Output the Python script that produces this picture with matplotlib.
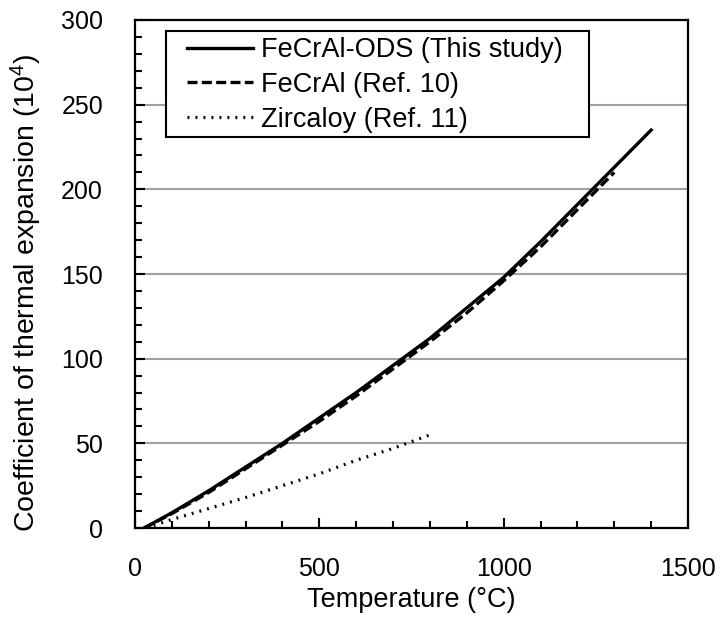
import matplotlib
matplotlib.use("Agg")
import matplotlib.pyplot as plt
from matplotlib.patches import Rectangle
from matplotlib.ticker import MultipleLocator

# values
temp_ods = [25, 100, 200, 300, 400, 500, 600, 700, 800, 900, 1000, 1100, 1200, 1300, 1400]
cte_ods = [0, 9, 22, 36, 50, 65, 80, 96, 112, 130, 148, 169, 191, 213, 235]

temp_fecral = [25, 100, 200, 300, 400, 500, 600, 700, 800, 900, 1000, 1100, 1200, 1300]
cte_fecral = [0, 8.5, 21, 35, 49, 63, 78, 94, 110, 127, 146, 166, 188, 210]

temp_zr = [30, 100, 200, 300, 400, 500, 600, 700, 800]
cte_zr = [0, 5, 11.5, 18, 25, 32, 40, 47, 55]

labels = ['FeCrAl-ODS (This study)', 'FeCrAl (Ref. 10)', 'Zircaloy (Ref. 11)']

plt.rcParams['font.family'] = ['Liberation Sans', 'DejaVu Sans']
plt.rcParams['mathtext.fontset'] = 'custom'
plt.rcParams['mathtext.rm'] = 'Liberation Sans'
plt.rcParams['mathtext.it'] = 'Liberation Sans'

fig = plt.figure(figsize=(7.21, 6.19), dpi=100)
ax = fig.add_axes([0.1872, 0.147, 0.767, 0.8207])

ax.plot(temp_ods, cte_ods, '-', color='black', lw=2.4, label=labels[0], zorder=3)
ax.plot(temp_fecral, cte_fecral, '--', color='black', lw=2.4, label=labels[1],
        dashes=(3.0, 1.3), zorder=3)
ax.plot(temp_zr, cte_zr, ':', color='black', lw=2.3, label=labels[2],
        dashes=(0.6, 1.9), zorder=3)

ax.set_xlim(0, 1500)
ax.set_ylim(0, 300)
ax.xaxis.set_major_locator(MultipleLocator(500))
ax.xaxis.set_minor_locator(MultipleLocator(100))
ax.yaxis.set_major_locator(MultipleLocator(50))
ax.yaxis.set_minor_locator(MultipleLocator(10))

ax.tick_params(which='both', direction='in', width=1.5, labelsize=18, colors='black')
ax.tick_params(which='major', length=7)
ax.tick_params(which='minor', length=5)
ax.tick_params(axis='x', which='major', pad=21)
ax.tick_params(axis='y', which='major', pad=23)

ax.grid(True, which='major', axis='y', color='#a0a0a0', lw=1.5)
ax.set_axisbelow(True)
for sp in ax.spines.values():
    sp.set_linewidth(1.6)
    sp.set_color('black')

ax.set_xlabel('Temperature (°C)', fontsize=19.5, labelpad=4)
ax.set_ylabel('Coefficient of thermal expansion (10$^{4}$)', fontsize=20.5)
ax.yaxis.set_label_coords(-0.165, 0.463)

# legend box drawn separately (Excel style: wide side padding)
ax.add_patch(Rectangle((0.056, 0.770), 0.765, 0.208, transform=ax.transAxes,
                       facecolor='white', edgecolor='black', lw=1.5, zorder=4))
leg = ax.legend(loc='upper left', bbox_to_anchor=(0.094, 0.966), borderaxespad=0,
                frameon=False, fontsize=19.5,
                handlelength=2.45, handletextpad=0.3, labelspacing=0.32,
                borderpad=0)
leg.set_zorder(5)

fig.savefig('out.png', dpi=100)
